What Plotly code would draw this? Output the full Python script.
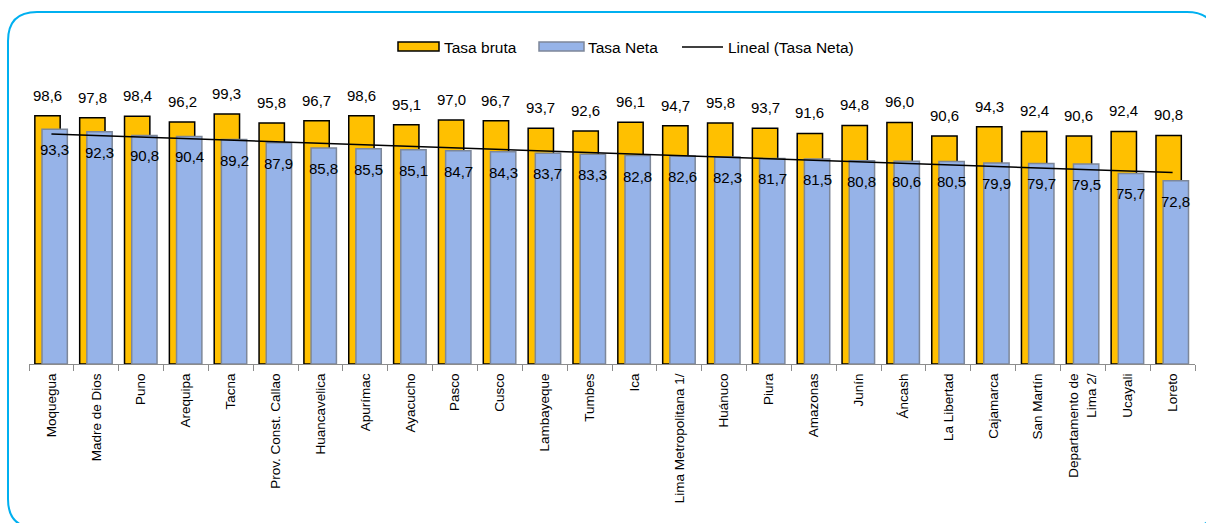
import numpy as np
import plotly.graph_objects as go

categories = ["Moquegua", "Madre de Dios", "Puno", "Arequipa", "Tacna", "Prov. Const. Callao",
              "Huancavelica", "Apurímac", "Ayacucho", "Pasco", "Cusco", "Lambayeque", "Tumbes",
              "Ica", "Lima Metropolitana 1/", "Huánuco", "Piura", "Amazonas", "Junín", "Áncash",
              "La Libertad", "Cajamarca", "San Martín", "Departamento de<br>Lima 2/", "Ucayali", "Loreto"]
tasa_bruta = [98.6, 97.8, 98.4, 96.2, 99.3, 95.8, 96.7, 98.6, 95.1, 97.0, 96.7, 93.7, 92.6,
              96.1, 94.7, 95.8, 93.7, 91.6, 94.8, 96.0, 90.6, 94.3, 92.4, 90.6, 92.4, 90.8]
tasa_neta = [93.3, 92.3, 90.8, 90.4, 89.2, 87.9, 85.8, 85.5, 85.1, 84.7, 84.3, 83.7, 83.3,
             82.8, 82.6, 82.3, 81.7, 81.5, 80.8, 80.6, 80.5, 79.9, 79.7, 79.5, 75.7, 72.8]

W, H = 1206, 523
ML, MR, MT, MB = 29, 11, 62, 159
PW, PH = W - ML - MR, H - MT - MB
FONT = "Liberation Sans, Arial, sans-serif"

x = np.arange(len(categories))
# Excel-style linear trendline of Tasa Neta
slope, intercept = np.polyfit(x, np.array(tasa_neta), 1)
trend = slope * x + intercept

GOLD_OFF, BLUE_OFF, BW = -0.37, -0.21, 0.565

fig = go.Figure()
fig.add_trace(go.Bar(x=x, y=tasa_bruta, name="Tasa bruta", offset=GOLD_OFF, width=BW,
                     marker=dict(color="#FFC000", line=dict(color="#000000", width=1.5)),
                     hoverinfo="y"))
fig.add_trace(go.Bar(x=x, y=tasa_neta, name="Tasa Neta", offset=BLUE_OFF, width=BW,
                     marker=dict(color="#96B3E8", line=dict(color="#7D8799", width=1.5)),
                     hoverinfo="y"))
fig.add_trace(go.Scatter(x=x, y=trend, name="Lineal (Tasa Neta)", mode="lines",
                         line=dict(color="#000000", width=1.5), hoverinfo="skip"))

annotations = []
for i, (b, n) in enumerate(zip(tasa_bruta, tasa_neta)):
    annotations.append(dict(x=i + GOLD_OFF + BW / 2, y=b, xref="x", yref="y",
                            text=f"{b:.1f}".replace(".", ","), showarrow=False,
                            yanchor="bottom", yshift=10,
                            font=dict(family=FONT, size=15, color="#000000")))
    annotations.append(dict(x=i + BLUE_OFF + BW / 2, y=n, xref="x", yref="y",
                            text=f"{n:.1f}".replace(".", ","), showarrow=False,
                            yanchor="top", yshift=-10,
                            font=dict(family=FONT, size=15, color="#000000")))

def px(v):
    return (v - ML) / PW

def py(v):
    return (H - MB - v) / PH

shapes = []
# rounded frame
L, T, R, B, r = 8, 12, 1216, 528, 29
path = (f"M {px(L+r)},{py(T)} L {px(R-r)},{py(T)} Q {px(R)},{py(T)} {px(R)},{py(T+r)} "
        f"L {px(R)},{py(B-r)} Q {px(R)},{py(B)} {px(R-r)},{py(B)} "
        f"L {px(L+r)},{py(B)} Q {px(L)},{py(B)} {px(L)},{py(B-r)} "
        f"L {px(L)},{py(T+r)} Q {px(L)},{py(T)} {px(L+r)},{py(T)} Z")
shapes.append(dict(type="path", path=path, xref="paper", yref="paper",
                   line=dict(color="#00B0F0", width=2), fillcolor="rgba(0,0,0,0)", layer="below"))

# custom legend
leg_y0, leg_y1 = 42, 51
shapes.append(dict(type="rect", xref="paper", yref="paper", x0=px(398), x1=px(439),
                   y0=py(leg_y1), y1=py(leg_y0), fillcolor="#FFC000",
                   line=dict(color="#000000", width=1.5)))
shapes.append(dict(type="rect", xref="paper", yref="paper", x0=px(539), x1=px(584),
                   y0=py(leg_y1), y1=py(leg_y0), fillcolor="#96B3E8",
                   line=dict(color="#7D8799", width=1.5)))
shapes.append(dict(type="line", xref="paper", yref="paper", x0=px(682), x1=px(723),
                   y0=py(47), y1=py(47), line=dict(color="#000000", width=1.5)))
for tx, txt in [(442, "Tasa bruta"), (586, "Tasa Neta"), (726, "Lineal (Tasa Neta)")]:
    annotations.append(dict(x=px(tx), y=py(47), xref="paper", yref="paper", text=txt,
                            showarrow=False, xanchor="left", yanchor="middle",
                            font=dict(family=FONT, size=15.5, color="#000000")))

fig.update_layout(
    width=W, height=H,
    margin=dict(l=ML, r=MR, t=MT, b=MB, pad=0),
    barmode="overlay",
    showlegend=False,
    plot_bgcolor="#FFFFFF", paper_bgcolor="#FFFFFF",
    separators=",.",
    font=dict(family=FONT, color="#000000"),
    xaxis=dict(range=[-0.5, len(categories) - 0.5], tickmode="array", tickvals=list(x),
               ticktext=categories, tickangle=-90, ticks="", showgrid=False, zeroline=False,
               showline=True, linecolor="#8C8C8C", linewidth=1, ticklabelstandoff=3,
               tickfont=dict(family=FONT, size=13.5, color="#000000"),
               minor=dict(tickmode="array", tickvals=[i - 0.5 for i in range(len(categories) + 1)],
                          ticks="outside", ticklen=6, tickcolor="#8C8C8C", tickwidth=1,
                          showgrid=False)),
    yaxis=dict(range=[0, 120], visible=False, showgrid=False, zeroline=False),
    annotations=annotations,
    shapes=shapes,
)

fig.write_html("out.html", config={"displayModeBar": False},
               post_script="document.body.style.margin='0';document.body.style.overflow='hidden';")
